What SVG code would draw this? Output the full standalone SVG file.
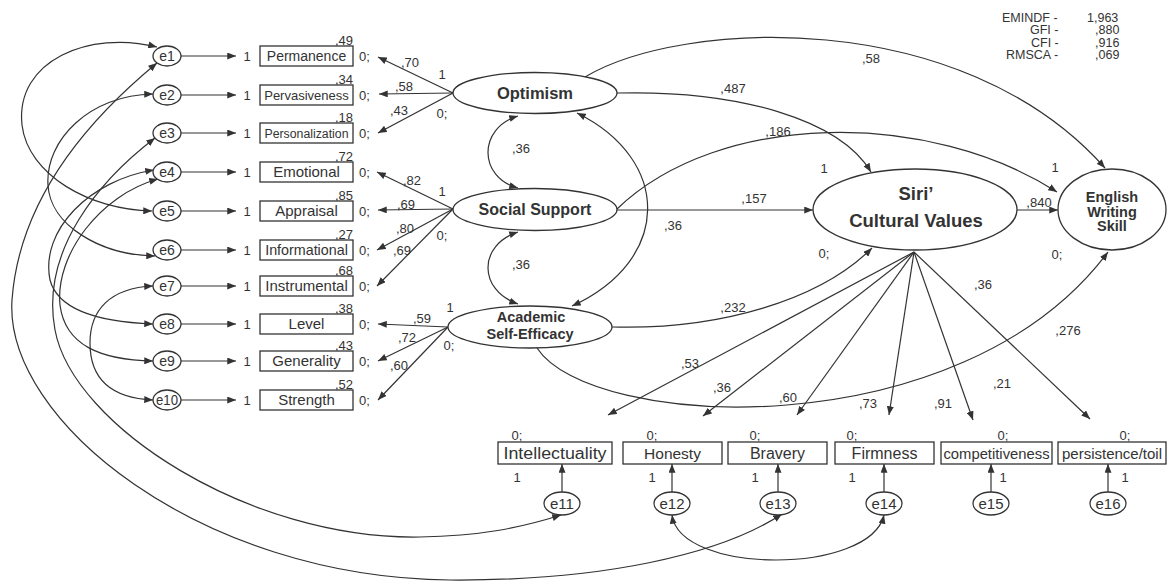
<svg xmlns="http://www.w3.org/2000/svg" width="1169" height="583" viewBox="0 0 1169 583">
<defs>
<marker id="ah" viewBox="0 0 10 8" refX="10" refY="4" markerWidth="9" markerHeight="7" markerUnits="userSpaceOnUse" orient="auto-start-reverse"><path d="M0,0 L10,4 L0,8 z" fill="#333"/></marker>
</defs>
<style>
.ln{stroke:#333;stroke-width:1.2;fill:none}
.a{marker-end:url(#ah)}
.bi{marker-start:url(#ah);marker-end:url(#ah)}
.sh{fill:#fff;stroke:#333;stroke-width:1.3}
text{font-family:"Liberation Sans",Arial,sans-serif;fill:#333}
.n{font-size:13px}
.m{text-anchor:middle}
.e{text-anchor:end}
.b{font-weight:bold}
.bx{font-size:14.5px;text-anchor:middle}
.ei{font-size:14px;text-anchor:middle}
</style>
<rect width="1169" height="583" fill="#fff"/>

<g id="connectors">
<path class="ln a" d="M181,56 L236,56"/>
<path class="ln a" d="M181,95 L236,95"/>
<path class="ln a" d="M181,133 L236,133"/>
<path class="ln a" d="M181,172 L236,172"/>
<path class="ln a" d="M181,211 L236,211"/>
<path class="ln a" d="M181,250 L236,250"/>
<path class="ln a" d="M181,286 L236,286"/>
<path class="ln a" d="M181,324 L236,324"/>
<path class="ln a" d="M181,361 L236,361"/>
<path class="ln a" d="M181,400 L236,400"/>
<path class="ln a" d="M453,93 L378,57"/>
<path class="ln a" d="M453,93 L379,94"/>
<path class="ln a" d="M453,93 L378,133"/>
<path class="ln a" d="M453,209 L377,172"/>
<path class="ln a" d="M453,209 L378,210"/>
<path class="ln a" d="M453,209 L377,250"/>
<path class="ln a" d="M453,209 L377,286"/>
<path class="ln a" d="M448,327 L378,324"/>
<path class="ln a" d="M448,327 L378,361"/>
<path class="ln a" d="M448,327 L378,400"/>
<path class="ln bi" d="M157,47 C90,30 15,60 22,125 C28,175 90,210 152,211"/>
<path class="ln bi" d="M153,94 C90,95 45,140 48,185 C50,225 100,255 155,256"/>
<path class="ln bi" d="M154,170 C90,180 40,230 50,280 C58,310 100,322 153,324"/>
<path class="ln bi" d="M158,179 C100,195 55,255 60,305 C65,345 100,360 153,361"/>
<path class="ln bi" d="M153,286 C110,288 90,310 90,343 C90,378 110,398 153,400"/>
<path class="ln bi" d="M157,63 C100,110 20,190 12,300 C4,420 200,578 450,580 C600,581 720,555 782,514"/>
<path class="ln bi" d="M155,138 C100,180 40,250 55,330 C73,426 250,540 420,537 C480,536 520,528 561,515"/>
<path class="ln bi" d="M672,515 C680,575 870,575 884,515"/>
<path class="ln bi" d="M518,116 C478,128 478,177 518,188"/>
<path class="ln bi" d="M518,232 C478,245 478,290 518,304"/>
<path class="ln bi" d="M577,113 C672,160 672,260 572,306"/>
<path class="ln a" d="M617,93 C740,90 840,120 871,172"/>
<path class="ln a" d="M585,77 C680,20 960,5 1105,168"/>
<path class="ln a" d="M617,209 C720,110 930,110 1057,192"/>
<path class="ln a" d="M617,210 L813,210"/>
<path class="ln a" d="M612,327 C720,330 820,300 872,248"/>
<path class="ln a" d="M537,348 C590,430 960,450 1108,252"/>
<path class="ln a" d="M1017,210 L1058,210"/>
<path class="ln a" d="M914,252 L608,415"/>
<path class="ln a" d="M914,252 L703,416"/>
<path class="ln a" d="M914,252 L797,415"/>
<path class="ln a" d="M914,252 L889,415"/>
<path class="ln a" d="M914,252 L973,420"/>
<path class="ln a" d="M914,252 L1090,419"/>
<path class="ln a" d="M562,492 L562,464"/>
<path class="ln a" d="M672,492 L672,464"/>
<path class="ln a" d="M778,492 L778,464"/>
<path class="ln a" d="M884,492 L884,464"/>
<path class="ln a" d="M991,492 L991,464"/>
<path class="ln a" d="M1108,492 L1108,464"/>
</g>

<g id="labels">
<text class="n m" x="247" y="61">1</text>
<text class="n m" x="247" y="100">1</text>
<text class="n m" x="247" y="138">1</text>
<text class="n m" x="247" y="177">1</text>
<text class="n m" x="247" y="216">1</text>
<text class="n m" x="247" y="255">1</text>
<text class="n m" x="247" y="291">1</text>
<text class="n m" x="247" y="329">1</text>
<text class="n m" x="247" y="366">1</text>
<text class="n m" x="247" y="405">1</text>
<text class="n e" x="353" y="45">,49</text>
<text class="n e" x="353" y="84">,34</text>
<text class="n e" x="353" y="122">,18</text>
<text class="n e" x="353" y="161">,72</text>
<text class="n e" x="353" y="200">,85</text>
<text class="n e" x="353" y="239">,27</text>
<text class="n e" x="353" y="275">,68</text>
<text class="n e" x="353" y="313">,38</text>
<text class="n e" x="353" y="350">,43</text>
<text class="n e" x="353" y="389">,52</text>
<text class="n" x="359" y="61">0;</text>
<text class="n" x="359" y="100">0;</text>
<text class="n" x="359" y="138">0;</text>
<text class="n" x="359" y="177">0;</text>
<text class="n" x="359" y="216">0;</text>
<text class="n" x="359" y="255">0;</text>
<text class="n" x="359" y="291">0;</text>
<text class="n" x="359" y="329">0;</text>
<text class="n" x="359" y="366">0;</text>
<text class="n" x="359" y="405">0;</text>
<text class="n m" x="410" y="67">,70</text>
<text class="n m" x="442" y="79">1</text>
<text class="n m" x="404" y="91">,58</text>
<text class="n m" x="399" y="115">,43</text>
<text class="n m" x="442" y="118">0;</text>
<text class="n m" x="412" y="185">,82</text>
<text class="n m" x="442" y="196">1</text>
<text class="n m" x="406" y="209">,69</text>
<text class="n m" x="405" y="233">,80</text>
<text class="n m" x="442" y="240">0;</text>
<text class="n m" x="402" y="255">,69</text>
<text class="n m" x="450" y="312">1</text>
<text class="n m" x="422" y="323">,59</text>
<text class="n m" x="407" y="342">,72</text>
<text class="n m" x="449" y="350">0;</text>
<text class="n m" x="399" y="370">,60</text>
<text class="n m" x="521" y="153">,36</text>
<text class="n m" x="521" y="269">,36</text>
<text class="n m" x="673" y="230">,36</text>
<text class="n m" x="871" y="63">,58</text>
<text class="n m" x="733" y="93">,487</text>
<text class="n m" x="778" y="136">,186</text>
<text class="n m" x="824" y="173">1</text>
<text class="n m" x="1055" y="172">1</text>
<text class="n m" x="754" y="203">,157</text>
<text class="n m" x="1039" y="207">,840</text>
<text class="n m" x="824" y="258">0;</text>
<text class="n m" x="1057" y="259">0;</text>
<text class="n m" x="983" y="289">,36</text>
<text class="n m" x="733" y="312">,232</text>
<text class="n m" x="1068" y="335">,276</text>
<text class="n m" x="690" y="368">,53</text>
<text class="n m" x="722" y="392">,36</text>
<text class="n m" x="1002" y="388">,21</text>
<text class="n m" x="788" y="402">,60</text>
<text class="n m" x="868" y="408">,73</text>
<text class="n m" x="943" y="408">,91</text>
<text class="n m" x="517" y="440">0;</text>
<text class="n m" x="652" y="440">0;</text>
<text class="n m" x="755" y="440">0;</text>
<text class="n m" x="852" y="440">0;</text>
<text class="n m" x="1003" y="440">0;</text>
<text class="n m" x="1125" y="440">0;</text>
<text class="n m" x="517" y="482">1</text>
<text class="n m" x="652" y="482">1</text>
<text class="n m" x="755" y="482">1</text>
<text class="n m" x="852" y="482">1</text>
<text class="n m" x="1003" y="482">1</text>
<text class="n m" x="1125" y="482">1</text>
</g>

<g id="fit-stats">
<text font-size="12.5" x="1002" y="21.5">EMINDF -<tspan x="1087">1,963</tspan></text>
<text font-size="12.5" x="1030" y="34">GFI -<tspan x="1095">,880</tspan></text>
<text font-size="12.5" x="1031" y="46.5">CFI -<tspan x="1095">,916</tspan></text>
<text font-size="12.5" x="1006" y="59">RMSCA -<tspan x="1095">,069</tspan></text>
</g>

<g id="e1"><ellipse class="sh" cx="167" cy="56" rx="14" ry="10"/><text class="ei" x="167" y="61">e1</text></g>
<g id="e2"><ellipse class="sh" cx="167" cy="95" rx="14" ry="10"/><text class="ei" x="167" y="100">e2</text></g>
<g id="e3"><ellipse class="sh" cx="167" cy="133" rx="14" ry="10"/><text class="ei" x="167" y="138">e3</text></g>
<g id="e4"><ellipse class="sh" cx="167" cy="172" rx="14" ry="10"/><text class="ei" x="167" y="177">e4</text></g>
<g id="e5"><ellipse class="sh" cx="167" cy="211" rx="14" ry="10"/><text class="ei" x="167" y="216">e5</text></g>
<g id="e6"><ellipse class="sh" cx="167" cy="250" rx="14" ry="10"/><text class="ei" x="167" y="255">e6</text></g>
<g id="e7"><ellipse class="sh" cx="167" cy="286" rx="14" ry="10"/><text class="ei" x="167" y="291">e7</text></g>
<g id="e8"><ellipse class="sh" cx="167" cy="324" rx="14" ry="10"/><text class="ei" x="167" y="329">e8</text></g>
<g id="e9"><ellipse class="sh" cx="167" cy="361" rx="14" ry="10"/><text class="ei" x="167" y="366">e9</text></g>
<g id="e10"><ellipse class="sh" cx="167" cy="400" rx="14" ry="10"/><text class="ei" x="167" y="405" textLength="22" lengthAdjust="spacingAndGlyphs">e10</text></g>

<g id="permanence"><rect class="sh" x="260" y="46" width="93" height="20"/><text class="bx" x="306.5" y="61" style="font-size:14px">Permanence</text></g>
<g id="pervasiveness"><rect class="sh" x="260" y="85" width="93" height="20"/><text class="bx" x="306.5" y="100" style="font-size:13px">Pervasiveness</text></g>
<g id="personalization"><rect class="sh" x="260" y="123" width="93" height="20"/><text class="bx" x="306.5" y="137.5" style="font-size:12.3px">Personalization</text></g>
<g id="emotional"><rect class="sh" x="260" y="162" width="93" height="20"/><text class="bx" x="306.5" y="177" style="font-size:15px">Emotional</text></g>
<g id="appraisal"><rect class="sh" x="260" y="201" width="93" height="20"/><text class="bx" x="306.5" y="216" style="font-size:15px">Appraisal</text></g>
<g id="informational"><rect class="sh" x="260" y="240" width="93" height="20"/><text class="bx" x="306.5" y="255" style="font-size:14.3px">Informational</text></g>
<g id="instrumental"><rect class="sh" x="260" y="276" width="93" height="20"/><text class="bx" x="306.5" y="291" style="font-size:15px">Instrumental</text></g>
<g id="level"><rect class="sh" x="260" y="314" width="93" height="20"/><text class="bx" x="306.5" y="329" style="font-size:15px">Level</text></g>
<g id="generality"><rect class="sh" x="260" y="351" width="93" height="20"/><text class="bx" x="306.5" y="366" style="font-size:15px">Generality</text></g>
<g id="strength"><rect class="sh" x="260" y="390" width="93" height="20"/><text class="bx" x="306.5" y="405" style="font-size:15px">Strength</text></g>

<g id="optimism"><ellipse class="sh" cx="535" cy="93" rx="82" ry="20.5"/><text class="b m" x="535" y="99" font-size="16.5">Optimism</text></g>
<g id="social-support"><ellipse class="sh" cx="535" cy="209.5" rx="82" ry="21"/><text class="b m" x="535" y="215" font-size="16">Social Support</text></g>
<g id="academic-self-efficacy"><ellipse class="sh" cx="530" cy="327" rx="82" ry="21"/><text class="b m" x="531" y="322" font-size="14.5">Academic</text><text class="b m" x="530" y="338.5" font-size="14.5">Self-Efficacy</text></g>
<g id="siri"><ellipse class="sh" cx="915" cy="209.5" rx="102" ry="40.5"/><text class="b m" x="916" y="200" font-size="18.5">Siri’</text><text class="b m" x="916" y="227" font-size="18.5">Cultural Values</text></g>
<g id="english-writing-skill"><ellipse class="sh" cx="1112" cy="209.5" rx="54" ry="40.5"/><text class="b m" x="1112" y="202" font-size="14.5">English</text><text class="b m" x="1112" y="216.5" font-size="14.5">Writing</text><text class="b m" x="1112" y="231" font-size="14.5">Skill</text></g>

<g id="intellectuality"><rect class="sh" x="498" y="442" width="114" height="22"/><text class="m" x="555" y="459" font-size="16" textLength="103" lengthAdjust="spacingAndGlyphs">Intellectuality</text></g>
<g id="honesty"><rect class="sh" x="623" y="442" width="99" height="22"/><text class="m" x="672.5" y="459" font-size="15.5">Honesty</text></g>
<g id="bravery"><rect class="sh" x="728" y="442" width="99" height="22"/><text class="m" x="777.5" y="459" font-size="16">Bravery</text></g>
<g id="firmness"><rect class="sh" x="835" y="442" width="99" height="22"/><text class="m" x="884.5" y="459" font-size="16">Firmness</text></g>
<g id="competitiveness"><rect class="sh" x="941" y="442" width="111" height="22"/><text class="m" x="996.5" y="458.5" font-size="14.8">competitiveness</text></g>
<g id="persistence-toil"><rect class="sh" x="1058" y="442" width="108" height="22"/><text class="m" x="1112" y="458.5" font-size="15">persistence/toil</text></g>

<g id="e11"><ellipse class="sh" cx="562" cy="503.5" rx="18" ry="11.5"/><text class="m" x="562" y="509" font-size="15">e11</text></g>
<g id="e12"><ellipse class="sh" cx="672" cy="503.5" rx="18" ry="11.5"/><text class="m" x="672" y="509" font-size="15">e12</text></g>
<g id="e13"><ellipse class="sh" cx="778" cy="503.5" rx="18" ry="11.5"/><text class="m" x="778" y="509" font-size="15">e13</text></g>
<g id="e14"><ellipse class="sh" cx="884" cy="503.5" rx="18" ry="11.5"/><text class="m" x="884" y="509" font-size="15">e14</text></g>
<g id="e15"><ellipse class="sh" cx="991" cy="503.5" rx="18" ry="11.5"/><text class="m" x="991" y="509" font-size="15">e15</text></g>
<g id="e16"><ellipse class="sh" cx="1108" cy="503.5" rx="18" ry="11.5"/><text class="m" x="1108" y="509" font-size="15">e16</text></g>
</svg>
